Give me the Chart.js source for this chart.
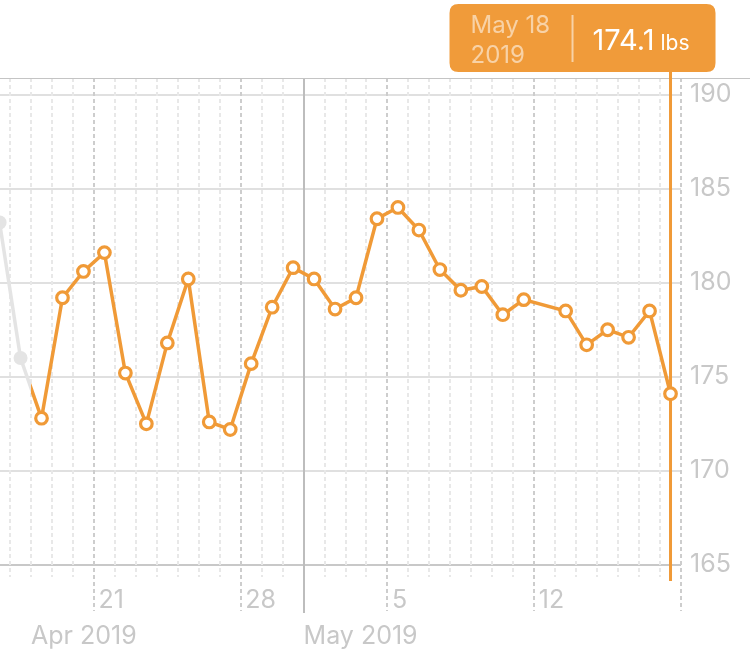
<!DOCTYPE html>
<html>
<head>
<meta charset="utf-8">
<script src="https://cdn.jsdelivr.net/npm/chart.js@4/dist/chart.umd.min.js"></script>
<style>
html,body{margin:0;padding:0;background:#fff;}
#wrap{width:750px;height:656px;}
canvas{display:block;}
</style>
</head>
<body>
<div id="wrap"><canvas id="c" width="750" height="656"></canvas></div>
<script>
// Day numbers: Apr 1 = 1 ... Apr 30 = 30, May 1 = 31 ... (May 12 has no reading)
const dayNumbers = [16,17,18,19,20,21,22,23,24,25,26,27,28,29,30,31,32,33,34,35,36,37,38,39,40,41,43,44,45,46,47,48];
const dayLabels = ['Apr 16','Apr 17','Apr 18','Apr 19','Apr 20','Apr 21','Apr 22','Apr 23','Apr 24','Apr 25','Apr 26','Apr 27','Apr 28','Apr 29','Apr 30','May 1','May 2','May 3','May 4','May 5','May 6','May 7','May 8','May 9','May 10','May 11','May 13','May 14','May 15','May 16','May 17','May 18'];
const weights = [183.2,176.0,172.8,179.2,180.6,181.6,175.2,172.5,176.8,180.2,172.6,172.2,175.7,178.7,180.8,180.2,178.6,179.2,183.4,184.0,182.8,180.7,179.6,179.8,178.3,179.1,178.5,176.7,177.5,177.1,178.5,174.1];
const yearLabel = '2019';
const unitLabel = 'lbs';
const yTicks = [165,170,175,180,185,190];
const xTickDays = [18,21,28,31,35,42];
const xTickLabels = [['','Apr 2019'],['\u200921'],['\u200928'],['','May 2019'],['\u20095'],['\u200912']];
const rangeStartDay = 18;      // highlighted range begins (Apr 18)
const firstSunday = 21;        // Apr 21 2019
const monthStartDays = [31];   // May 1
const xMin = 16.52, xMax = 49;
const yMin = 164.36, yMax = 190.88;

const ORANGE = '#F09A37';
const GRAY = '#E4E4E4';
const FONT = 'Inter, "Noto Sans", sans-serif';

function inRange(i){ return dayNumbers[i] >= rangeStartDay; }

function lineGradient(context){
  const chart = context.chart;
  const {ctx, chartArea} = chart;
  if (!chartArea || !chart.scales.x) return ORANGE;
  const px = chart.scales.x.getPixelForValue(rangeStartDay);
  const g = ctx.createLinearGradient(chartArea.left, 0, chartArea.right, 0);
  const f = Math.min(Math.max((px - chartArea.left) / (chartArea.right - chartArea.left), 0), 1);
  g.addColorStop(0, GRAY); g.addColorStop(f, GRAY);
  g.addColorStop(f, ORANGE); g.addColorStop(1, ORANGE);
  return g;
}

const dayGrid = {
  id: 'dayGrid',
  beforeDatasetsDraw(chart){
    const {ctx, chartArea:a, scales:{x}} = chart;
    ctx.save();
    for (let d = Math.ceil(x.min); d <= x.max; d++){
      const px = Math.round(x.getPixelForValue(d));
      const isMonth = monthStartDays.includes(d);
      const isWeek = ((d - firstSunday) % 7 + 7) % 7 === 0;
      ctx.beginPath();
      if (isMonth){
        ctx.setLineDash([]);
        ctx.strokeStyle = '#bdbdbd';
        ctx.lineWidth = 2;
        ctx.moveTo(px, a.top); ctx.lineTo(px, a.bottom + 36);
      } else if (isWeek){
        ctx.setLineDash([4,3]);
        ctx.strokeStyle = '#cdcdcd';
        ctx.lineWidth = 2;
        ctx.moveTo(px, a.top); ctx.lineTo(px, a.bottom + 34);
      } else {
        ctx.setLineDash([4,3]);
        ctx.strokeStyle = '#e8e8e8';
        ctx.lineWidth = 2;
        ctx.moveTo(px, a.top); ctx.lineTo(px, a.bottom);
      }
      ctx.stroke();
    }
    ctx.setLineDash([]);
    // top border
    ctx.strokeStyle = '#c4c4c4';
    ctx.lineWidth = 1;
    ctx.beginPath();
    ctx.moveTo(0, a.top + 0.5); ctx.lineTo(chart.width, a.top + 0.5);
    ctx.stroke();
    // selection line
    const i = weights.length - 1;
    const sx = x.getPixelForValue(dayNumbers[i] + 0.5);
    ctx.strokeStyle = ORANGE;
    ctx.lineWidth = 3;
    ctx.beginPath();
    ctx.moveTo(sx, 70); ctx.lineTo(sx, a.bottom + 4);
    ctx.stroke();
    ctx.restore();
  },
  afterDraw(chart){
    const {ctx, scales:{x}} = chart;
    const i = weights.length - 1;
    const px = x.getPixelForValue(dayNumbers[i] + 0.5);
    const L = px - 221, R = px + 45, T = 4, B = 72, r = 9;
    ctx.save();
    ctx.fillStyle = '#F09B3A';
    ctx.beginPath();
    ctx.moveTo(L + r, T);
    ctx.lineTo(R - r, T); ctx.quadraticCurveTo(R, T, R, T + r);
    ctx.lineTo(R, B - r); ctx.quadraticCurveTo(R, B, R - r, B);
    ctx.lineTo(L + r, B); ctx.quadraticCurveTo(L, B, L, B - r);
    ctx.lineTo(L, T + r); ctx.quadraticCurveTo(L, T, L + r, T);
    ctx.closePath();
    ctx.fill();
    ctx.textBaseline = 'alphabetic';
    ctx.textAlign = 'left';
    ctx.fillStyle = 'rgba(255,255,255,0.55)';
    ctx.font = '24px ' + FONT;
    ctx.fillText(dayLabels[i], L + 21, 33);
    ctx.fillText(yearLabel, L + 21, 63);
    ctx.strokeStyle = 'rgba(255,255,255,0.55)';
    ctx.lineWidth = 2;
    ctx.beginPath();
    ctx.moveTo(L + 123, 15); ctx.lineTo(L + 123, 62);
    ctx.stroke();
    ctx.fillStyle = '#ffffff';
    ctx.font = '29px ' + FONT;
    const val = weights[i].toFixed(1);
    ctx.fillText(val, L + 143, 50);
    const w = ctx.measureText(val).width;
    ctx.font = '21px ' + FONT;
    ctx.fillText(unitLabel, L + 143 + w + 6, 50);
    ctx.restore();
  }
};

const points = dayNumbers.map((d, i) => ({x: d + 0.5, y: weights[i]}));

new Chart(document.getElementById('c'), {
  type: 'line',
  data: {
    datasets: [{
      data: points,
      borderWidth: 3.5,
      borderColor: lineGradient,
      tension: 0,
      pointRadius: c => inRange(c.dataIndex) ? 5.8 : 7,
      pointBorderWidth: c => inRange(c.dataIndex) ? 3.2 : 0,
      pointBackgroundColor: c => inRange(c.dataIndex) ? '#ffffff' : GRAY,
      pointBorderColor: c => inRange(c.dataIndex) ? ORANGE : GRAY
    }]
  },
  options: {
    responsive: false,
    animation: false,
    devicePixelRatio: 1,
    events: [],
    layout: {autoPadding: false, padding: {top: 78, left: 0, right: 0, bottom: 0}},
    plugins: {legend: {display: false}, tooltip: {enabled: false}},
    scales: {
      x: {
        type: 'linear',
        min: xMin, max: xMax,
        grid: {display: false},
        border: {display: false},
        afterBuildTicks: s => { s.ticks = xTickDays.map(v => ({value: v})); },
        afterFit: s => { s.height = 79; },
        ticks: {
          autoSkip: false, maxRotation: 0, minRotation: 0,
          align: 'start', padding: -2,
          color: '#c8c8c8',
          font: {family: FONT, size: 25, lineHeight: 1.42},
          callback: (v, i) => xTickLabels[i]
        }
      },
      y: {
        position: 'right',
        min: yMin, max: yMax,
        afterBuildTicks: s => { s.ticks = yTicks.map(v => ({value: v})); },
        afterFit: s => { s.width = 69; },
        grid: {
          drawTicks: false,
          lineWidth: 2,
          color: c => (c.tick && c.tick.value === yTicks[0]) ? '#c8c8c8' : '#e0e0e0'
        },
        border: {display: false},
        ticks: {
          padding: 9,
          color: '#c8c8c8',
          font: {family: FONT, size: 25},
          callback: v => String(v)
        }
      }
    }
  },
  plugins: [dayGrid]
});
</script>
</body>
</html>
